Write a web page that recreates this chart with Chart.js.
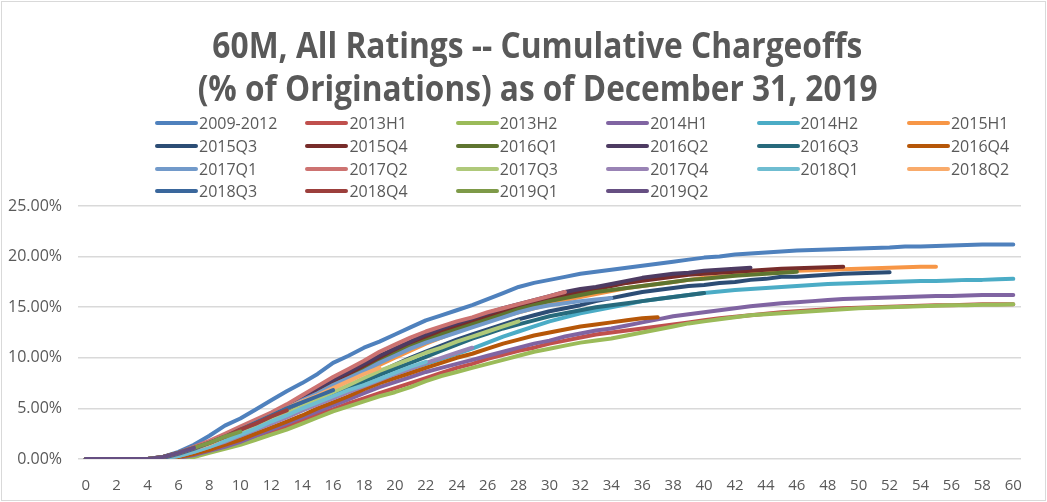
<!DOCTYPE html>
<html>
<head>
<meta charset="utf-8">
<script src="https://cdn.jsdelivr.net/npm/chart.js@4.4.1/dist/chart.umd.min.js"></script>
<style>
  html, body { margin: 0; padding: 0; background: #fff; }
  #wrap { position: relative; width: 1047px; height: 502px; overflow: hidden; font-family: 'Open Sans', sans-serif; }
  #frame { position: absolute; left: 1px; top: 1px; width: 1043px; height: 498px; border: 1px solid #D9D9D9; pointer-events: none; }
  canvas { position: absolute; left: 0; top: 0; }
  .title { position: absolute; left: 14px; width: 1047px; text-align: center; color: #595959; font-weight: 700; font-size: 35px; line-height: 40px; white-space: nowrap; }
  .title span { display: inline-block; transform-origin: 50% 50%; }
  #legend { position: absolute; left: 155px; top: 112px; display: grid; grid-template-columns: repeat(6, 150.4px); grid-auto-rows: 22.7px; color: #595959; font-size: 16px; }
  .li { display: flex; align-items: center; white-space: nowrap; }
  .li i { display: inline-block; width: 43px; height: 4px; border-radius: 2px; margin-right: 1px; }
</style>
</head>
<body>
<div id="wrap">
  <canvas id="c" width="1047" height="502"></canvas>
  <div class="title" id="t1" style="top:25px"><span>60M, All Ratings -- Cumulative Chargeoffs</span></div>
  <div class="title" id="t2" style="top:68px"><span>(% of Originations) as of December 31, 2019</span></div>
  <div id="legend"></div>
  <div id="frame"></div>
</div>
<script>
// Months since origination (categories)
const months = [0,1,2,3,4,5,6,7,8,9,10,11,12,13,14,15,16,17,18,19,20,21,22,23,24,25,26,27,28,29,30,31,32,33,34,35,36,37,38,39,40,41,42,43,44,45,46,47,48,49,50,51,52,53,54,55,56,57,58,59,60];

// Y-axis tick values (%)
const yTicks = [0, 5, 10, 15, 20, 25];

// Series names (legend order)
const seriesNames = ['2009-2012','2013H1','2013H2','2014H1','2014H2','2015H1','2015Q3','2015Q4','2016Q1','2016Q2','2016Q3','2016Q4','2017Q1','2017Q2','2017Q3','2017Q4','2018Q1','2018Q2','2018Q3','2018Q4','2019Q1','2019Q2'];

// Series colours
const seriesColors = ['#4F81BD','#C0504D','#9BBB59','#8064A2','#4BACC6','#F79646','#2C4D75','#772C2A','#5F7530','#4D3B62','#276A7C','#B65708','#729ACA','#CD7371','#AFC97A','#9983B5','#6FBDD1','#F9AB6B','#3A679C','#9C3F3C','#7E9A48','#664F82'];

// Cumulative chargeoffs (% of originations), by month since origination
const s2009_2012 = [0,0,0,0,0, 0.2,0.7,1.4,2.3,3.3,4.0, 4.9,5.8,6.7,7.5,8.4,9.5,10.2,11.0,11.6,12.3, 13.0,13.7,14.2,14.7,15.2,15.8,16.4,17.0,17.4,17.7, 18.0,18.3,18.5,18.7,18.9,19.1,19.3,19.5,19.7,19.9, 20.0,20.2,20.3,20.4,20.5,20.6,20.65,20.7,20.75,20.8, 20.85,20.9,21.0,21.0,21.05,21.1,21.15,21.2,21.2,21.2];
const s2013H1 = [0,0,0,0,0,0, 0.1,0.3,0.7,1.1,1.6, 2.1,2.7,3.2,3.8,4.4,4.9,5.5,6.0,6.5,7.0, 7.5,8.0,8.5,9.0,9.4,9.9,10.3,10.7,11.0,11.4, 11.7,12.0,12.3,12.5,12.7,12.9,13.1,13.3,13.5,13.7, 13.9,14.05,14.2,14.35,14.5,14.6,14.7,14.8,14.9,14.95, 15.0,15.05,15.1,15.15,15.2,15.2,15.25,15.3,15.3,15.3];
const s2013H2 = [0,0,0,0,0,0,0, 0.2,0.6,1.0,1.4, 1.9,2.4,2.9,3.5,4.1,4.7,5.2,5.7,6.2,6.6, 7.1,7.7,8.2,8.6,9.0,9.4,9.8,10.2,10.6,10.9, 11.2,11.5,11.7,11.9,12.2,12.5,12.8,13.1,13.4,13.6, 13.8,14.0,14.2,14.3,14.4,14.5,14.6,14.7,14.8,14.9, 14.95,15.0,15.05,15.1,15.15,15.2,15.2,15.25,15.25,15.3];
const s2014H1 = [0,0,0,0,0,0, 0.1,0.4,0.8,1.2,1.7, 2.3,2.9,3.5,4.1,4.7,5.3,5.9,6.5,7.1,7.6, 8.1,8.6,9.0,9.4,9.8,10.2,10.6,11.0,11.4,11.7, 12.1,12.4,12.7,12.9,13.2,13.5,13.8,14.1,14.3,14.5, 14.7,14.9,15.1,15.25,15.4,15.5,15.6,15.7,15.8,15.85, 15.9,15.95,16.0,16.05,16.1,16.1,16.15,16.2,16.2,16.2];
const s2014H2 = [0,0,0,0,0,0, 0.2,0.6,1.0,1.5,2.1, 2.9,3.6,4.2,4.8,5.5,6.1,6.7,7.3,7.9,8.4, 8.9,9.4,9.9,10.4,10.9,11.5,12.1,12.6,13.1,13.6, 14.0,14.4,14.7,15.0,15.3,15.6,15.8,16.0,16.2,16.4, 16.55,16.7,16.8,16.9,17.0,17.1,17.2,17.3,17.35,17.4, 17.45,17.5,17.55,17.6,17.6,17.65,17.7,17.7,17.75,17.8];
const s2015H1 = [0,0,0,0,0, 0.1,0.4,0.9,1.4,2.0,2.6, 3.3,4.0,4.7,5.4,6.2,7.0,7.8,8.5,9.3,10.0, 10.7,11.4,12.0,12.6,13.1,13.6,14.1,14.5,14.9,15.3, 15.7,16.0,16.3,16.6,16.9,17.1,17.3,17.5,17.7,17.9, 18.0,18.15,18.3,18.4,18.5,18.6,18.65,18.7,18.75,18.8, 18.85,18.9,18.95,19.0,19.0];
const s2015Q3 = [0,0,0,0,0, 0.1,0.4,0.8,1.3,1.9,2.5, 3.1,3.8,4.4,5.1,5.8,6.5,7.2,7.9,8.6,9.3, 10.0,10.6,11.2,11.8,12.3,12.8,13.3,13.8,14.2,14.6, 14.9,15.2,15.6,15.9,16.2,16.5,16.7,16.9,17.1,17.2, 17.4,17.5,17.7,17.8,18.0,18.0,18.1,18.2,18.3,18.35, 18.4,18.45];
const s2015Q4 = [0,0,0,0,0, 0.1,0.5,1.0,1.6,2.2,2.9, 3.6,4.3,5.1,5.9,6.7,7.5,8.3,9.1,9.9,10.6, 11.3,12.0,12.6,13.1,13.6,14.1,14.6,15.0,15.4,15.8, 16.2,16.5,16.8,17.1,17.4,17.6,17.8,18.0,18.2,18.3, 18.4,18.5,18.6,18.7,18.8,18.85,18.9,18.95,19.0];
const s2016Q1 = [0,0,0,0,0, 0.1,0.5,1.0,1.5,2.1,2.8, 3.5,4.2,4.9,5.7,6.5,7.3,8.0,8.8,9.6,10.4, 11.1,11.7,12.3,12.8,13.3,13.8,14.3,14.8,15.2,15.6, 15.9,16.2,16.5,16.7,16.9,17.1,17.3,17.5,17.7,17.8, 17.95,18.1,18.2,18.3,18.4,18.5];
const s2016Q2 = [0,0,0,0,0, 0.2,0.6,1.1,1.7,2.4,3.1, 3.8,4.5,5.3,6.1,7.0,7.8,8.6,9.4,10.2,10.9, 11.6,12.3,12.9,13.4,13.9,14.4,14.9,15.3,15.7,16.1, 16.5,16.8,17.0,17.3,17.6,17.9,18.1,18.3,18.4,18.6, 18.7,18.8,18.9];
const s2016Q3 = [0,0,0,0,0, 0.1,0.4,0.9,1.4,2.0,2.6, 3.2,3.9,4.5,5.2,5.8,6.5,7.1,7.7,8.3,8.9, 9.5,10.1,10.7,11.3,11.9,12.4,12.9,13.3,13.7,14.1, 14.4,14.7,15.0,15.2,15.4,15.6,15.8,16.0,16.2,16.4];
const s2016Q4 = [0,0,0,0,0,0, 0.2,0.5,0.9,1.4,1.9, 2.5,3.1,3.7,4.3,5.0,5.6,6.2,6.9,7.5,8.0, 8.5,9.0,9.5,10.0,10.4,10.9,11.4,11.8,12.2,12.5, 12.8,13.1,13.3,13.5,13.7,13.9,14.0];
const s2017Q1 = [0,0,0,0,0, 0.1,0.5,1.0,1.6,2.2,2.9, 3.6,4.3,5.0,5.8,6.5,7.3,8.0,8.7,9.5,10.2, 10.9,11.5,12.0,12.5,13.0,13.5,14.0,14.5,14.9,15.2, 15.4,15.6,15.75,15.9];
const s2017Q2 = [0,0,0,0,0, 0.2,0.6,1.2,1.8,2.5,3.2, 3.9,4.6,5.4,6.3,7.2,8.1,8.9,9.7,10.6,11.3, 12.0,12.6,13.1,13.6,14.0,14.5,14.9,15.3,15.7,16.1, 16.5];
const s2017Q3 = [0,0,0,0,0,0.1, 0.3,0.8,1.3,1.9,2.5, 3.1,3.8,4.5,5.2,5.9,6.6,7.3,8.0,8.7,9.3, 9.9,10.5,11.0,11.6,12.1,12.6,13.1,13.6];
const s2017Q4 = [0,0,0,0,0,0.1, 0.3,0.7,1.2,1.7,2.3, 2.9,3.5,4.1,4.8,5.4,6.0,6.6,7.2,7.8,8.4, 8.9,9.5,10.0,10.5,11.0];
const s2018Q1 = [0,0,0,0,0,0.1, 0.3,0.7,1.2,1.8,2.4, 3.0,3.7,4.3,5.0,5.6,6.2,6.8,7.3,7.9,8.5, 9.1,9.6];
const s2018Q2 = [0,0,0,0,0,0.1, 0.5,1.0,1.5,2.2,2.9, 3.6,4.3,5.0,5.7,6.3,7.0,7.7,8.4,9.0];
const s2018Q3 = [0,0,0,0,0,0.1, 0.5,1.0,1.6,2.2,2.9, 3.6,4.3,5.0,5.6,6.2,6.8];
const s2018Q4 = [0,0,0,0,0,0.2, 0.6,1.1,1.6,2.2,2.9, 3.5,4.2,4.8];
const s2019Q1 = [0,0,0,0,0,0.2,0.6,1.1,1.6,2.2,2.7];
const s2019Q2 = [0,0,0,0,0,0.2,0.6,1.1];

const seriesData = [s2009_2012,s2013H1,s2013H2,s2014H1,s2014H2,s2015H1,s2015Q3,s2015Q4,s2016Q1,s2016Q2,s2016Q3,s2016Q4,s2017Q1,s2017Q2,s2017Q3,s2017Q4,s2018Q1,s2018Q2,s2018Q3,s2018Q4,s2019Q1,s2019Q2];

const datasets = seriesNames.map((name, i) => ({
  label: name,
  data: seriesData[i],
  borderColor: seriesColors[i],
  backgroundColor: seriesColors[i],
  borderWidth: 4,
  borderCapStyle: 'round',
  borderJoinStyle: 'round',
  pointRadius: 0,
  fill: false,
  tension: 0,
  order: seriesNames.length - i
}));

new Chart(document.getElementById('c'), {
  type: 'line',
  data: { labels: months, datasets },
  options: {
    responsive: false,
    animation: false,
    events: [],
    layout: { padding: { top: 206, right: 26, bottom: 0, left: 0 } },
    plugins: { legend: { display: false }, title: { display: false }, tooltip: { enabled: false } },
    scales: {
      x: {
        type: 'category',
        offset: true,
        grid: { display: false, drawTicks: false },
        border: { display: false },
        ticks: {
          autoSkip: false, maxRotation: 0, minRotation: 0, padding: 18,
          color: '#595959', font: { family: 'Open Sans', size: 15 },
          callback: (v, idx) => (idx % 2 === 0 ? String(months[idx]) : '')
        },
        afterFit: (s) => { s.height = 43; }
      },
      y: {
        min: 0, max: 25,
        afterBuildTicks: (s) => { s.ticks = yTicks.map(v => ({ value: v })); },
        grid: { color: '#D9D9D9', lineWidth: 1.5, drawTicks: false },
        border: { display: false },
        ticks: {
          padding: 16, color: '#595959', font: { family: 'Open Sans', size: 16 },
          callback: (v) => v.toFixed(2) + '%'
        },
        afterFit: (s) => { s.width = 78; }
      }
    }
  }
});

// HTML legend (6 columns, Excel-like)
const leg = document.getElementById('legend');
seriesNames.forEach((name, i) => {
  const d = document.createElement('div');
  d.className = 'li';
  const sw = document.createElement('i');
  sw.style.background = seriesColors[i];
  d.appendChild(sw);
  d.appendChild(document.createTextNode(name));
  leg.appendChild(d);
});

// Fit title lines to the reference widths (condensed look)
[['t1', 650], ['t2', 680]].forEach(([id, w]) => {
  const sp = document.querySelector('#' + id + ' span');
  const cw = sp.getBoundingClientRect().width;
  sp.style.transform = 'scaleX(' + (w / cw) + ')';
});
</script>
</body>
</html>
